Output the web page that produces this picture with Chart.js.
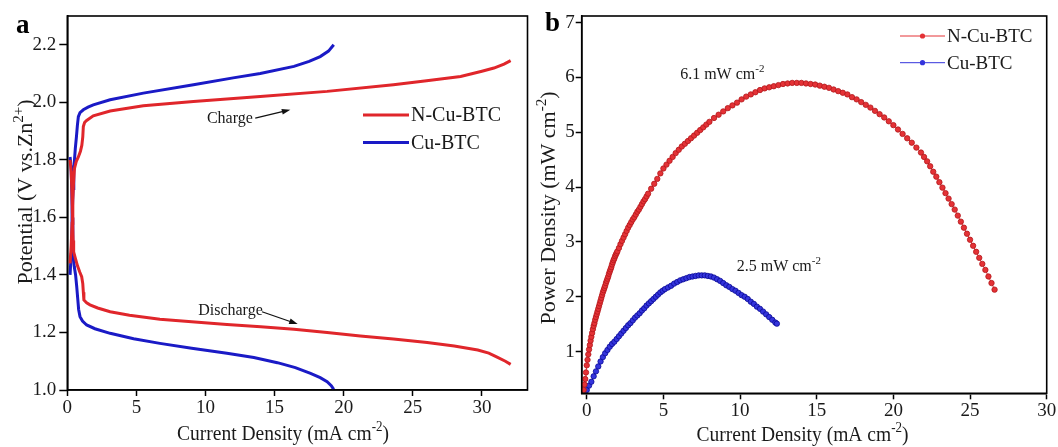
<!DOCTYPE html>
<html>
<head>
<meta charset="utf-8">
<script src="https://cdn.jsdelivr.net/npm/chart.js@4.4.1/dist/chart.umd.min.js"></script>
<style>
html, body { margin: 0; padding: 0; background: #fff; }
#wrap { position: relative; width: 1058px; height: 447px; overflow: hidden; }
#chartA { position: absolute; left: 0; top: 0; }
#chartB { position: absolute; left: 530px; top: 0; }
</style>
</head>
<body>
<div id="wrap">
<canvas id="chartA" width="530" height="447"></canvas>
<canvas id="chartB" width="528" height="447"></canvas>
</div>
<script>
// Series names
const seriesNames = ['N-Cu-BTC', 'Cu-BTC'];

// Panel a: charge / discharge polarization (current density vs potential)
const nCuChargeX = [0.2, 0.28, 0.35, 0.4, 0.45, 0.52, 0.65, 0.8, 0.95, 1.05, 1.12, 1.16, 1.25, 1.4, 1.88, 3.1, 5.5, 9.13, 13.96, 18.8, 23.6, 26.0, 28.46, 30.0, 30.87, 31.6, 32.08];
const nCuChargeY = [1.44, 1.50, 1.58, 1.66, 1.72, 1.77, 1.795, 1.81, 1.83, 1.85, 1.88, 1.916, 1.93, 1.937, 1.953, 1.970, 1.988, 2.003, 2.020, 2.038, 2.061, 2.075, 2.09, 2.108, 2.119, 2.133, 2.145];
const nCuDischargeX = [0.2, 0.28, 0.34, 0.38, 0.42, 0.46, 0.6, 0.75, 0.9, 1.04, 1.12, 1.16, 1.2, 1.4, 1.64, 2.2, 3.1, 4.5, 6.7, 9.0, 11.55, 14.0, 16.4, 18.8, 21.2, 23.6, 26.04, 28.0, 29.7, 30.5, 31.1, 31.7, 32.08];
const nCuDischargeY = [1.80, 1.76, 1.68, 1.60, 1.52, 1.48, 1.455, 1.43, 1.41, 1.394, 1.37, 1.34, 1.313, 1.303, 1.296, 1.285, 1.272, 1.260, 1.246, 1.237, 1.228, 1.220, 1.211, 1.200, 1.188, 1.177, 1.165, 1.153, 1.139, 1.128, 1.114, 1.100, 1.089];
const cuChargeX = [0.2, 0.28, 0.33, 0.37, 0.42, 0.47, 0.52, 0.58, 0.66, 0.73, 0.8, 0.92, 1.16, 1.5, 1.88, 3.1, 5.5, 9.13, 12.0, 13.96, 16.4, 17.5, 18.3, 18.9, 19.28];
const cuChargeY = [1.40, 1.47, 1.55, 1.63, 1.70, 1.76, 1.80, 1.84, 1.88, 1.92, 1.95, 1.964, 1.974, 1.983, 1.991, 2.009, 2.032, 2.061, 2.085, 2.100, 2.125, 2.142, 2.159, 2.178, 2.200];
const cuDischargeX = [0.2, 0.27, 0.32, 0.36, 0.40, 0.43, 0.5, 0.6, 0.68, 0.75, 0.82, 0.92, 1.1, 1.4, 2.0, 3.1, 4.8, 6.7, 9.0, 11.55, 13.5, 15.2, 16.5, 17.6, 18.3, 18.8, 19.1, 19.28];
const cuDischargeY = [1.81, 1.78, 1.70, 1.60, 1.52, 1.46, 1.43, 1.40, 1.36, 1.32, 1.28, 1.255, 1.24, 1.226, 1.213, 1.197, 1.178, 1.162, 1.145, 1.128, 1.113, 1.095, 1.078, 1.058, 1.043, 1.029, 1.015, 1.002];

// Panel b: power density curves
const nCuPowerX = [-0.2, -0.15, -0.1, -0.05, 0, 0.05, 0.1, 0.15, 0.2, 0.25, 0.3, 0.35, 0.4, 0.45, 0.5, 0.55, 0.6, 0.65, 0.7, 0.75, 0.8, 0.85, 0.9, 0.95, 1.0, 1.05, 1.1, 1.15, 1.2, 1.25, 1.3, 1.35, 1.4, 1.45, 1.5, 1.55, 1.6, 1.65, 1.7, 1.75, 1.8, 1.85, 1.9, 1.95, 2.0,
  2.1, 2.2, 2.3, 2.4, 2.5, 2.6, 2.7, 2.8, 2.9, 3.0, 3.1, 3.2, 3.3, 3.4, 3.5, 3.6, 3.7, 3.8, 3.9, 4.0,
  4.2, 4.4, 4.6, 4.8, 5.0, 5.2, 5.4, 5.6, 5.8, 6.0, 6.2, 6.4, 6.6, 6.8, 7.0, 7.2, 7.4, 7.6, 7.8, 8.0,
  8.3, 8.6, 8.9, 9.2, 9.5, 9.8, 10.1, 10.4, 10.7, 11.0, 11.3, 11.6, 11.9, 12.2, 12.5, 12.8, 13.1, 13.4, 13.7, 14.0, 14.3, 14.6, 14.9, 15.2, 15.5, 15.8, 16.1, 16.4, 16.7, 17.0, 17.3, 17.6, 17.9, 18.2, 18.5, 18.8, 19.1, 19.4, 19.7, 20.0, 20.3, 20.6, 20.9, 21.2, 21.5, 21.8,
  22.0, 22.2, 22.4, 22.6, 22.8, 23.0, 23.2, 23.4, 23.6, 23.8, 24.0, 24.2, 24.4, 24.6, 24.8, 25.0, 25.2, 25.4, 25.6, 25.8, 26.0, 26.2, 26.4, 26.6];
const nCuPowerY = [0.30, 0.40, 0.50, 0.62, 0.75, 0.85, 0.95, 1.04, 1.12, 1.20, 1.27, 1.34, 1.41, 1.47, 1.52, 1.58, 1.63, 1.68, 1.73, 1.78, 1.83, 1.88, 1.93, 1.98, 2.03, 2.08, 2.12, 2.16, 2.20, 2.25, 2.29, 2.33, 2.37, 2.42, 2.46, 2.50, 2.54, 2.59, 2.63, 2.67, 2.70, 2.74, 2.77, 2.80, 2.83,
  2.89, 2.96, 3.02, 3.08, 3.14, 3.20, 3.26, 3.31, 3.36, 3.41, 3.45, 3.50, 3.55, 3.59, 3.64, 3.69, 3.74, 3.78, 3.83, 3.88,
  3.97, 4.06, 4.15, 4.25, 4.34, 4.41, 4.48, 4.55, 4.62, 4.68, 4.74, 4.79, 4.84, 4.89, 4.94, 4.99, 5.04, 5.09, 5.14, 5.19,
  5.26, 5.32, 5.38, 5.44, 5.49, 5.54, 5.60, 5.65, 5.69, 5.73, 5.77, 5.80, 5.82, 5.84, 5.86, 5.88, 5.89, 5.90, 5.90, 5.90, 5.89, 5.88, 5.87, 5.85, 5.83, 5.81, 5.78, 5.75, 5.72, 5.69, 5.64, 5.60, 5.55, 5.50, 5.45, 5.39, 5.33, 5.27, 5.20, 5.13, 5.05, 4.97, 4.89, 4.81, 4.72, 4.63,
  4.55, 4.47, 4.38, 4.28, 4.19, 4.09, 3.99, 3.89, 3.79, 3.69, 3.59, 3.48, 3.37, 3.26, 3.15, 3.04, 2.93, 2.82, 2.71, 2.60, 2.49, 2.37, 2.25, 2.13];
const cuPowerX = [0.0, 0.15, 0.3, 0.45, 0.6, 0.75, 0.9, 1.05, 1.2, 1.35, 1.5, 1.65, 1.8, 1.95, 2.1, 2.25, 2.4, 2.55, 2.7, 2.85, 3.0, 3.15, 3.3, 3.45, 3.6, 3.75, 3.9, 4.05, 4.2, 4.35, 4.5, 4.65, 4.8, 4.95, 5.1,
  5.3, 5.5, 5.7, 5.9, 6.1, 6.3, 6.5, 6.7, 6.9, 7.1, 7.3, 7.5, 7.7, 7.9, 8.1, 8.3, 8.5, 8.7, 8.9, 9.1, 9.3, 9.5, 9.7, 9.9, 10.1, 10.3, 10.5, 10.7, 10.9, 11.1, 11.3, 11.5, 11.7, 11.9, 12.1, 12.3, 12.4];
const cuPowerY = [0.30, 0.38, 0.45, 0.55, 0.64, 0.73, 0.82, 0.90, 0.97, 1.03, 1.09, 1.14, 1.18, 1.23, 1.28, 1.33, 1.38, 1.43, 1.48, 1.52, 1.57, 1.62, 1.66, 1.70, 1.75, 1.79, 1.84, 1.88, 1.92, 1.96, 2.00, 2.04, 2.08, 2.11, 2.14,
  2.17, 2.20, 2.24, 2.27, 2.30, 2.32, 2.34, 2.36, 2.37, 2.38, 2.39, 2.39, 2.39, 2.38, 2.37, 2.35, 2.32, 2.29, 2.25, 2.21, 2.18, 2.14, 2.11, 2.07, 2.03, 2.00, 1.96, 1.91, 1.87, 1.82, 1.78, 1.73, 1.68, 1.63, 1.58, 1.53, 1.51];

// Tick values
const aXTicks = [0, 5, 10, 15, 20, 25, 30];
const aYTicks = [1.0, 1.2, 1.4, 1.6, 1.8, 2.0, 2.2];
const bXTicks = [0, 5, 10, 15, 20, 25, 30];
const bYTicks = [1, 2, 3, 4, 5, 6, 7];

const serif = '"Liberation Serif", "Times New Roman", serif';
const red = '#e0262b';
const blue = '#1a1ac6';

function toPoints(xs, ys) {
    return xs.map((x, i) => ({ x: x, y: ys[i] }));
}

// Text with superscripts, drawn centered (or left-aligned) at a baseline point
function drawRich(ctx, parts, x, y, opts) {
    const size = opts.size;
    const fontFor = p => (p.sup ? Math.round(size * 0.68) : size) + 'px ' + serif;
    ctx.save();
    ctx.translate(x, y);
    if (opts.angle) ctx.rotate(opts.angle);
    if (opts.squish) ctx.scale(opts.squish, 1);
    ctx.fillStyle = '#1a1a1a';
    ctx.textBaseline = 'alphabetic';
    ctx.textAlign = 'left';
    let total = 0;
    parts.forEach(p => { ctx.font = fontFor(p); total += ctx.measureText(p.t).width; });
    let cx = opts.align === 'left' ? 0 : -total / 2;
    parts.forEach(p => {
        ctx.font = fontFor(p);
        ctx.fillText(p.t, cx, p.sup ? -size * 0.42 : 0);
        cx += ctx.measureText(p.t).width;
    });
    ctx.restore();
}

function drawArrow(ctx, x1, y1, x2, y2) {
    const ang = Math.atan2(y2 - y1, x2 - x1);
    const head = 9;
    ctx.save();
    ctx.strokeStyle = '#111';
    ctx.fillStyle = '#111';
    ctx.lineWidth = 1.3;
    ctx.beginPath();
    ctx.moveTo(x1, y1);
    ctx.lineTo(x2 - head * 0.8 * Math.cos(ang), y2 - head * 0.8 * Math.sin(ang));
    ctx.stroke();
    ctx.beginPath();
    ctx.moveTo(x2, y2);
    ctx.lineTo(x2 - head * Math.cos(ang - 0.33), y2 - head * Math.sin(ang - 0.33));
    ctx.lineTo(x2 - head * Math.cos(ang + 0.33), y2 - head * Math.sin(ang + 0.33));
    ctx.closePath();
    ctx.fill();
    ctx.restore();
}

// Frame, titles, legend and notes for one panel
function makeDecor(cfg) {
    return {
        id: 'decor',
        afterDraw(chart) {
            const ctx = chart.ctx;
            const a = chart.chartArea;
            const sx = chart.scales.x, sy = chart.scales.y;
            ctx.save();
            ctx.strokeStyle = '#000';
            ctx.lineWidth = 1.6;
            ctx.strokeRect(a.left, a.top, a.right - a.left, a.bottom - a.top);
            ctx.restore();

            // panel letter
            ctx.save();
            ctx.font = 'bold 27px ' + serif;
            ctx.fillStyle = '#000';
            ctx.fillText(cfg.letter.t, cfg.letter.x, cfg.letter.y);
            ctx.restore();

            drawRich(ctx, cfg.xTitle.parts, cfg.xTitle.x, cfg.xTitle.y, { size: 21, squish: 0.93 });
            drawRich(ctx, cfg.yTitle.parts, cfg.yTitle.x, cfg.yTitle.y, { size: 22, angle: -Math.PI / 2 });

            // legend
            cfg.legend.items.forEach((it, i) => {
                const y = cfg.legend.y + i * cfg.legend.gap;
                ctx.save();
                ctx.strokeStyle = it.color;
                ctx.lineWidth = cfg.legend.lineWidth;
                ctx.beginPath();
                ctx.moveTo(cfg.legend.x1, y);
                ctx.lineTo(cfg.legend.x2, y);
                ctx.stroke();
                if (cfg.legend.marker) {
                    ctx.fillStyle = it.color;
                    ctx.beginPath();
                    ctx.arc((cfg.legend.x1 + cfg.legend.x2) / 2, y, 2.6, 0, Math.PI * 2);
                    ctx.fill();
                }
                ctx.fillStyle = '#1a1a1a';
                ctx.font = cfg.legend.size + 'px ' + serif;
                ctx.textBaseline = 'middle';
                ctx.fillText(it.label, cfg.legend.x2 + 2, y + 1);
                ctx.restore();
            });

            // notes and arrows in data units
            cfg.notes.forEach(n => {
                drawRich(ctx, n.parts, sx.getPixelForValue(n.x), sy.getPixelForValue(n.y), { size: 16, align: 'left' });
            });
            cfg.arrows.forEach(r => {
                drawArrow(ctx, sx.getPixelForValue(r.x1), sy.getPixelForValue(r.y1),
                    sx.getPixelForValue(r.x2), sy.getPixelForValue(r.y2));
            });
        }
    };
}

function axisCommon(tickValues, fmt, tickLen, pad, fit) {
    return {
        type: 'linear',
        afterBuildTicks: s => { s.ticks = tickValues.map(v => ({ value: v })); },
        afterFit: fit,
        grid: { drawOnChartArea: false, drawTicks: true, tickLength: tickLen, tickWidth: 1.5, tickColor: '#000' },
        border: { display: true, color: '#000', width: 1.6 },
        ticks: {
            autoSkip: false, maxRotation: 0, padding: pad, color: '#1a1a1a',
            font: { family: serif, size: 19 },
            callback: fmt
        }
    };
}

document.addEventListener('DOMContentLoaded', function() {
    Chart.defaults.animation = false;

    // Panel a
    const xA = axisCommon(aXTicks, v => String(v), 6, 1, s => { s.height = 57; });
    xA.min = 0; xA.max = 33.3;
    const yA = axisCommon(aYTicks, v => v.toFixed(1), 8, 3, s => { s.width = 67.3; });
    yA.min = 1.0; yA.max = 2.3;

    const lineSet = (xs, ys, color) => ({
        data: toPoints(xs, ys), showLine: true, borderColor: color, borderWidth: 3,
        pointRadius: 0, tension: 0, fill: false
    });

    new Chart(document.getElementById('chartA'), {
        type: 'scatter',
        data: {
            datasets: [
                lineSet(nCuChargeX, nCuChargeY, red),
                lineSet(nCuDischargeX, nCuDischargeY, red),
                lineSet(cuChargeX, cuChargeY, blue),
                lineSet(cuDischargeX, cuDischargeY, blue)
            ]
        },
        options: {
            responsive: false,
            layout: { padding: { left: 0, top: 16, right: 2.5, bottom: 0 } },
            scales: { x: xA, y: yA },
            plugins: { legend: { display: false }, tooltip: { enabled: false } }
        },
        plugins: [makeDecor({
            letter: { t: 'a', x: 16, y: 33 },
            xTitle: { parts: [{ t: 'Current Density (mA cm' }, { t: '-2', sup: true }, { t: ')' }], x: 283, y: 440 },
            yTitle: { parts: [{ t: 'Potential (V vs.Zn' }, { t: '2+', sup: true }, { t: ')' }], x: 32, y: 192 },
            legend: {
                x1: 363, x2: 409, y: 115, gap: 27.5, lineWidth: 3, size: 20, marker: false,
                items: [{ label: seriesNames[0], color: red }, { label: seriesNames[1], color: blue }]
            },
            notes: [
                { parts: [{ t: 'Charge' }], x: 10.1, y: 1.928 },
                { parts: [{ t: 'Discharge' }], x: 9.47, y: 1.261 }
            ],
            arrows: [
                { x1: 13.6, y1: 1.945, x2: 16.14, y2: 1.974 },
                { x1: 14.09, y1: 1.272, x2: 16.67, y2: 1.229 }
            ]
        })]
    });

    // Panel b
    const xB = axisCommon(bXTicks, v => String(v), 6, 0, s => { s.height = 53.7; });
    xB.min = -0.33; xB.max = 30;
    const yB = axisCommon(bYTicks, v => String(v), 6, 1, s => { s.width = 51.7; });
    yB.min = 0.24; yB.max = 7.12;

    const dotSet = (xs, ys, fillColor, edgeColor) => ({
        data: toPoints(xs, ys), showLine: true, borderColor: fillColor, borderWidth: 1,
        pointRadius: 2.7, pointBorderWidth: 0.8, pointBackgroundColor: fillColor,
        pointBorderColor: edgeColor, tension: 0, fill: false
    });

    new Chart(document.getElementById('chartB'), {
        type: 'scatter',
        data: {
            datasets: [
                dotSet(nCuPowerX, nCuPowerY, '#e43236', '#b3161b'),
                dotSet(cuPowerX, cuPowerY, '#3434dc', '#0a0a96')
            ]
        },
        options: {
            responsive: false,
            layout: { padding: { left: 0, top: 16, right: 11.3, bottom: 0 } },
            scales: { x: xB, y: yB },
            plugins: { legend: { display: false }, tooltip: { enabled: false } }
        },
        plugins: [makeDecor({
            letter: { t: 'b', x: 15, y: 31 },
            xTitle: { parts: [{ t: 'Current Density (mA cm' }, { t: '-2', sup: true }, { t: ')' }], x: 272.5, y: 441 },
            yTitle: { parts: [{ t: 'Power Density (mW cm' }, { t: '-2', sup: true }, { t: ')' }], x: 25, y: 208 },
            legend: {
                x1: 370, x2: 415, y: 36, gap: 26.7, lineWidth: 1, size: 19, marker: true,
                items: [{ label: seriesNames[0], color: '#e43236' }, { label: seriesNames[1], color: '#3434dc' }]
            },
            notes: [
                { parts: [{ t: '6.1 mW cm' }, { t: '-2', sup: true }], x: 6.09, y: 5.98 },
                { parts: [{ t: '2.5 mW cm' }, { t: '-2', sup: true }], x: 9.78, y: 2.47 }
            ],
            arrows: []
        })]
    });
});
</script>
</body>
</html>
